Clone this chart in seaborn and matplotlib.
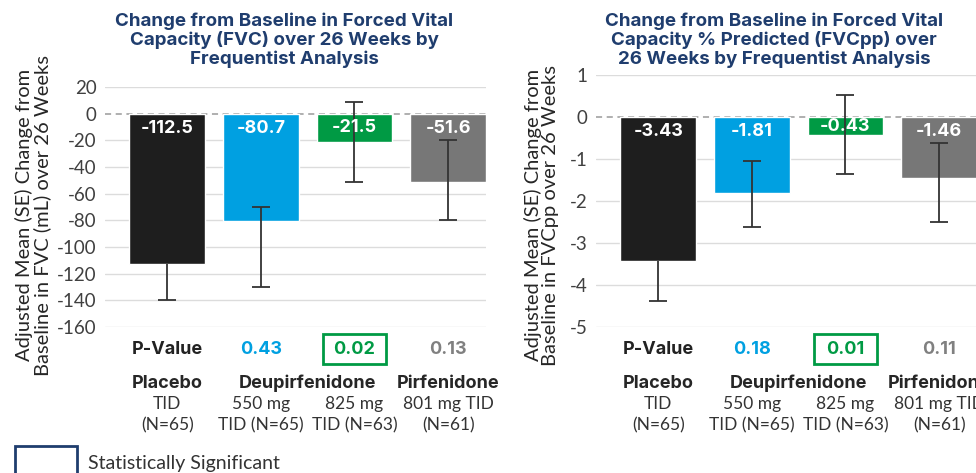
import numpy as np
import matplotlib
matplotlib.use("Agg")
import matplotlib.pyplot as plt
import matplotlib.transforms as mtransforms
from matplotlib.patches import Rectangle
import seaborn as sns

# groups / colours
groups = ["Placebo", "Deupirfenidone 550 mg", "Deupirfenidone 825 mg", "Pirfenidone"]
bar_colors = ["#1e1e1e", "#00a0e1", "#009a44", "#777777"]
pval_colors = ["#222222", "#00a0e1", "#009a44", "#808080"]
significant = [False, False, True, False]

name_row = ["Placebo", "Deupirfenidone", "Pirfenidone"]
name_pos = [0, 1.5, 3]
dose_row = ["TID", "550 mg", "825 mg", "801 mg TID"]
n_row = ["(N=65)", "TID (N=65)", "TID (N=63)", "(N=61)"]

# FVC (mL)  -- upper whisker of placebo is hidden inside the black bar
fvc_mean = [-112.5, -80.7, -21.5, -51.6]
fvc_low = [-140, -130, -51, -80]
fvc_high = [-112.5, -70, 8.5, -20]
fvc_labels = ["-112.5", "-80.7", "-21.5", "-51.6"]
fvc_pvals = ["P-Value", "0.43", "0.02", "0.13"]
fvc_ticks = [20, 0, -20, -40, -60, -80, -100, -120, -140, -160]

# FVC % predicted
pp_mean = [-3.43, -1.81, -0.43, -1.46]
pp_low = [-4.37, -2.62, -1.35, -2.5]
pp_high = [-3.43, -1.05, 0.52, -0.63]
pp_labels = ["-3.43", "-1.81", "-0.43", "-1.46"]
pp_pvals = ["P-Value", "0.18", "0.01", "0.11"]
pp_ticks = [1, 0, -1, -2, -3, -4, -5]

sns.set_style("white")
plt.rcParams['font.family'] = ['Lato', 'DejaVu Sans']
BOLD = ['Inter', 'DejaVu Sans']

W, H = 976, 473
fig = plt.figure(figsize=(W / 100, H / 100), dpi=100)
navy = "#1f3d6e"
txt = "#262626"


def fy(py):
    return 1 - py / H


def panel(left_px, top_px, means, lows, highs, labels, pvals, ticks, ylabel, title, title_x, ylab_x):
    bottom_px = 327
    ax = fig.add_axes([left_px / W, fy(bottom_px), 381 / W, (bottom_px - top_px) / H])
    sns.barplot(x=groups, y=means, hue=groups, palette=bar_colors, width=0.81,
                legend=False, ax=ax, saturation=1, zorder=3)
    yerr = [[m - l for m, l in zip(means, lows)], [h - m for m, h in zip(means, highs)]]
    _, caps, _ = ax.errorbar(range(4), means, yerr=yerr, fmt='none', ecolor='#333333',
                             elinewidth=1.3, capsize=6.5, capthick=1.3, zorder=5)
    # no cap where there is no upper whisker
    for cap in caps:
        yd = np.array(cap.get_ydata(), dtype=float)
        yd[np.isclose(yd, means)] = np.nan
        cap.set_ydata(yd)
    ax.set_xlim(-0.665, 3.405)
    ax.set_ylim(min(ticks), max(ticks))
    ax.set_yticks(ticks)
    ax.set_yticklabels([str(t) for t in ticks], fontsize=13.5, color="#404040")
    ax.tick_params(axis='y', length=0, pad=6)
    ax.set_xticks([])
    ax.set_xlabel("")
    ax.set_ylabel("")
    sns.despine(ax=ax, left=True, bottom=True)
    ax.yaxis.grid(True, color="#dcdcdc", lw=1)
    ax.set_axisbelow(True)
    for t, gl in zip(ticks, ax.get_ygridlines()):
        if t == 0:
            gl.set_visible(False)
    ax.axhline(0, color="#9a9a9a", lw=1.1, ls=(0, (4, 3)), zorder=2)

    # value labels inside bars
    px_per_unit = (bottom_px - top_px) / (max(ticks) - min(ticks))
    for i, (m, lab) in enumerate(zip(means, labels)):
        off = min(15, abs(m) * px_per_unit / 2) / px_per_unit
        ax.text(i, -off, lab, ha='center', va='center', color='white',
                fontsize=13, fontweight='bold', family=BOLD, zorder=6)

    tr = mtransforms.blended_transform_factory(ax.transData, fig.transFigure)
    for i, p in enumerate(pvals):
        ax.text(i, fy(349), p, transform=tr, ha='center', va='center', fontsize=13,
                fontweight='bold', family=BOLD, color=pval_colors[i])
        if significant[i]:
            bx = ax.transData.transform((i, 0))[0]
            fig.patches.append(Rectangle(((bx - 31.5) / W, fy(364)), 63 / W, 30 / H,
                                         transform=fig.transFigure, fill=False,
                                         edgecolor="#009a44", lw=2))
    for pos, n in zip(name_pos, name_row):
        ax.text(pos, fy(383), n, transform=tr, ha='center', va='center', fontsize=13,
                fontweight='bold', family=BOLD, color=txt)
    for i in range(4):
        ax.text(i, fy(404), dose_row[i], transform=tr, ha='center', va='center',
                fontsize=12.5, color="#333333")
        ax.text(i, fy(425), n_row[i], transform=tr, ha='center', va='center',
                fontsize=12.5, color="#333333")

    fig.text(ylab_x / W, fy(215), ylabel, rotation=90, ha='center', va='center',
             fontsize=14.5, color=txt, linespacing=1.0)
    fig.text(title_x / W, fy(40), title, ha='center', va='center', fontsize=13.5,
             fontweight='bold', family=BOLD, color=navy, linespacing=1.08)
    return ax


panel(105, 87, fvc_mean, fvc_low, fvc_high, fvc_labels, fvc_pvals, fvc_ticks,
      "Adjusted Mean (SE) Change from\nBaseline in FVC (mL) over 26 Weeks",
      "Change from Baseline in Forced Vital\nCapacity (FVC) over 26 Weeks by\nFrequentist Analysis",
      284, 33)
panel(596, 75, pp_mean, pp_low, pp_high, pp_labels, pp_pvals, pp_ticks,
      "Adjusted Mean (SE) Change from\nBaseline in FVCpp over 26 Weeks",
      "Change from Baseline in Forced Vital\nCapacity % Predicted (FVCpp) over\n26 Weeks by Frequentist Analysis",
      774, 541)

# legend for significance box
fig.patches.append(Rectangle((15 / W, fy(480)), 62 / W, 34 / H, transform=fig.transFigure,
                             fill=False, edgecolor=navy, lw=2))
fig.text(88 / W, fy(463), "Statistically Significant", ha='left', va='center',
         fontsize=14, color="#333333")

fig.savefig("out.png", dpi=100)
